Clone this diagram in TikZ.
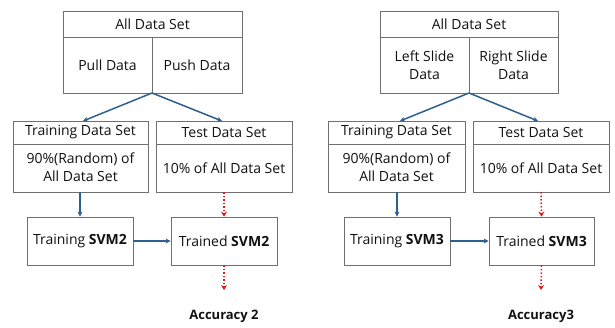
\documentclass[tikz,border=0pt]{standalone}
\usepackage{fontspec}
\setmainfont{Open Sans}
\usetikzlibrary{arrows.meta}
\definecolor{bord}{HTML}{707070}
\definecolor{arrblue}{HTML}{2F5F8F}
\definecolor{arrred}{HTML}{E0161B}
\definecolor{txt}{HTML}{111111}
\begin{document}
\begin{tikzpicture}[x=1pt,y=-1pt,
  box/.style={draw=bord,line width=0.8pt,fill=white},
  lbl/.style={font=\fontsize{14}{17.5}\selectfont,text=txt,align=center,inner sep=0pt},
  blarrow/.style={draw=arrblue,line width=1.5pt,-{Stealth[length=5pt,width=5pt]}},
  rdarrow/.style={draw=arrred,line width=1.5pt,dotted,-{Stealth[length=5pt,width=6pt]}}]
\useasboundingbox (0,0) rectangle (615,327);
\fill[white] (0,0) rectangle (615,327);

% ---------- LEFT ----------
\draw[box] (63,11) rectangle (242,93);
\draw[bord,line width=0.8pt] (63,37) -- (242,37);
\draw[bord,line width=0.8pt] (152,37) -- (152,93);
\coordinate (Lsplit) at (152,93);
\node[lbl] (Lall) at (152.5,24) {All Data Set};
\node[lbl] (Lpull) at (107.5,65) {Pull Data};
\node[lbl] (Lpush) at (197,65) {Push Data};

\draw[box] (13,121) rectangle (148,192);
\draw[bord,line width=0.8pt] (13,144) -- (148,144);
\coordinate (Ltrtop) at (83,121);
\coordinate (Ltrbot) at (80,192);
\node[lbl] (Ltrh) at (80.5,132.5) {Training Data Set};
\node[lbl] (Ltrb) at (80.5,167) {90\%(Random) of\\All Data Set};

\draw[box] (156,121) rectangle (292,192);
\draw[bord,line width=0.8pt] (156,144) -- (292,144);
\coordinate (Ltetop) at (222,121);
\coordinate (Ltebot) at (224,192);
\node[lbl] (Lteh) at (224,132.5) {Test Data Set};
\node[lbl] (Lteb) at (224,168) {10\% of All Data Set};

\node[box,lbl,minimum width=106pt,minimum height=48pt] (Ltrain) at (80,241) {Training \textbf{SVM2}};
\node[box,lbl,minimum width=106pt,minimum height=48pt] (Ltrained) at (224,241) {Trained \textbf{SVM2}};
\node[lbl,font=\fontsize{13}{15}\selectfont\bfseries] (Lacc) at (224,316) {Accuracy 2};
\coordinate (Laccend) at (224,290);

\draw[blarrow] (Lsplit) -- (Ltrtop);
\draw[blarrow] (Lsplit) -- (Ltetop);
\draw[blarrow] (Ltrbot) -- (Ltrain.north);
\draw[blarrow] (Ltrain.east) -- (Ltrained.west);
\draw[rdarrow] (Ltebot) -- (Ltrained.north);
\draw[rdarrow] (Ltrained.south) -- (Laccend);

% ---------- RIGHT ----------
\draw[box] (380,11) rectangle (558,93);
\draw[bord,line width=0.8pt] (380,37) -- (558,37);
\draw[bord,line width=0.8pt] (469,37) -- (469,93);
\coordinate (Rsplit) at (469,93);
\node[lbl] (Rall) at (469,24) {All Data Set};
\node[lbl] (Rleft) at (424.5,65) {Left Slide\\Data};
\node[lbl] (Rright) at (513.5,65) {Right Slide\\Data};

\draw[box] (328,121) rectangle (465,192);
\draw[bord,line width=0.8pt] (328,144) -- (465,144);
\coordinate (Rtrtop) at (400,121);
\coordinate (Rtrbot) at (397,192);
\node[lbl] (Rtrh) at (396.5,132.5) {Training Data Set};
\node[lbl] (Rtrb) at (396.5,167) {90\%(Random) of\\All Data Set};

\draw[box] (473,121) rectangle (609,192);
\draw[bord,line width=0.8pt] (473,144) -- (609,144);
\coordinate (Rtetop) at (538,121);
\coordinate (Rtebot) at (541,192);
\node[lbl] (Rteh) at (541,132.5) {Test Data Set};
\node[lbl] (Rteb) at (541,168) {10\% of All Data Set};

\node[box,lbl,minimum width=106pt,minimum height=48pt] (Rtrain) at (397,241) {Training \textbf{SVM3}};
\node[box,lbl,minimum width=105pt,minimum height=48pt] (Rtrained) at (541.5,241) {Trained \textbf{SVM3}};
\node[lbl,font=\fontsize{13}{15}\selectfont\bfseries] (Racc) at (541,316) {Accuracy3};
\coordinate (Raccend) at (541,290);

\draw[blarrow] (Rsplit) -- (Rtrtop);
\draw[blarrow] (Rsplit) -- (Rtetop);
\draw[blarrow] (Rtrbot) -- (Rtrain.north);
\draw[blarrow] (Rtrain.east) -- (Rtrained.west);
\draw[rdarrow] (Rtebot) -- (Rtrained.north);
\draw[rdarrow] (Rtrained.south) -- (Raccend);
\end{tikzpicture}
\end{document}
